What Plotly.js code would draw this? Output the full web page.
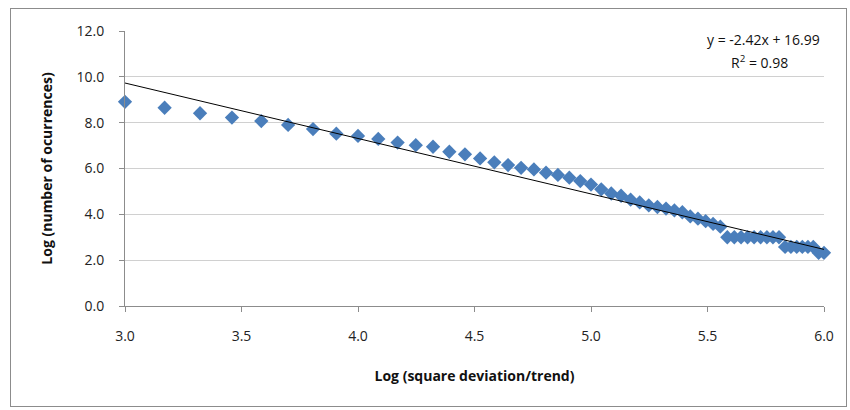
<!DOCTYPE html>
<html>
<head>
<meta charset="utf-8">
<script src="https://cdn.plot.ly/plotly-3.0.1.min.js"></script>
<style>
  html, body { margin: 0; padding: 0; background: #fff; }
  #frame { position: absolute; left: 10px; top: 8px; width: 837px; height: 399px; border: 1px solid #8c8c8c; box-sizing: border-box; pointer-events: none; z-index: 5; }
  #chart { position: absolute; left: 0; top: 0; width: 850px; height: 410px; }
</style>
</head>
<body>
<div id="chart"></div>
<div id="frame"></div>
<script>
// Log (square deviation/trend)
const xValues = [3.000, 3.170, 3.322, 3.459, 3.585, 3.700, 3.807, 3.907, 4.000, 4.087,
  4.170, 4.248, 4.322, 4.392, 4.459, 4.524, 4.585, 4.644, 4.700, 4.755,
  4.807, 4.858, 4.907, 4.954, 5.000, 5.044, 5.087, 5.129, 5.170, 5.209,
  5.248, 5.285, 5.322, 5.358, 5.392, 5.426, 5.459, 5.492, 5.524, 5.555,
  5.585, 5.615, 5.644, 5.672, 5.700, 5.728, 5.755, 5.781, 5.807, 5.833,
  5.858, 5.883, 5.907, 5.931, 5.954, 5.977, 6.000];
// Log (number of ocurrences)
const yValues = [8.91, 8.65, 8.41, 8.22, 8.07, 7.90, 7.72, 7.52, 7.42, 7.29,
  7.13, 7.02, 6.95, 6.73, 6.62, 6.44, 6.27, 6.15, 6.03, 5.96,
  5.82, 5.72, 5.60, 5.45, 5.30, 5.09, 4.91, 4.81, 4.64, 4.52,
  4.39, 4.32, 4.25, 4.17, 4.09, 3.91, 3.81, 3.70, 3.58, 3.46,
  3.00, 3.00, 3.00, 3.00, 3.00, 3.00, 3.00, 3.00, 3.00, 2.58,
  2.58, 2.58, 2.58, 2.58, 2.58, 2.32, 2.32];
// Linear trendline y = slope*x + intercept
const trendSlope = -2.42;
const trendIntercept = 16.99;
const trendR2 = 0.98;
const xTickVals = [3.0, 3.5, 4.0, 4.5, 5.0, 5.5, 6.0];
const yTickVals = [0, 2, 4, 6, 8, 10, 12];

const xMin = Math.min(...xValues), xMax = Math.max(...xValues);
const trendX = [xMin, xMax];
const trendY = trendX.map(v => trendSlope * v + trendIntercept);

const fontFam = '"Open Sans", "Liberation Sans", Arial, sans-serif';

const data = [
  {
    x: xValues, y: yValues, type: 'scatter', mode: 'markers',
    marker: { symbol: 'diamond', size: 11, color: '#4a7ebb', line: { width: 0 } },
    cliponaxis: false, showlegend: false, hoverinfo: 'x+y'
  },
  {
    x: trendX, y: trendY, type: 'scatter', mode: 'lines',
    line: { color: '#000000', width: 1 },
    cliponaxis: false, showlegend: false, hoverinfo: 'skip'
  }
];

const layout = {
  width: 850, height: 410,
  margin: { l: 125, r: 26, t: 31, b: 104 },
  paper_bgcolor: 'rgba(0,0,0,0)', plot_bgcolor: '#ffffff',
  font: { family: fontFam, size: 14, color: '#222' },
  showlegend: false,
  xaxis: {
    range: [3, 6], tickvals: xTickVals, tickformat: '.1f',
    showgrid: false, zeroline: false,
    showline: true, linecolor: '#8c8c8c', linewidth: 1,
    ticks: 'outside', ticklen: 5, tickcolor: '#8c8c8c',
    ticklabelstandoff: 12,
    tickfont: { family: fontFam, size: 14, color: '#222' },
    title: { text: 'Log (square deviation/trend)', standoff: 27,
      font: { family: fontFam, size: 14, color: '#111', weight: 'bold' } },
    automargin: false
  },
  yaxis: {
    range: [0, 12], tickvals: yTickVals, tickformat: '.1f',
    showgrid: true, gridcolor: '#d0d0d0', gridwidth: 1, zeroline: false,
    showline: true, linecolor: '#8c8c8c', linewidth: 1,
    ticks: 'outside', ticklen: 5, tickcolor: '#8c8c8c',
    ticklabelstandoff: 12,
    tickfont: { family: fontFam, size: 14, color: '#222' },
    title: { text: 'Log (number of ocurrences)', standoff: 20,
      font: { family: fontFam, size: 14, color: '#111', weight: 'bold' } },
    automargin: false
  },
  annotations: [
    { xref: 'paper', yref: 'paper', x: 0.997, y: 1.012, xanchor: 'right', yanchor: 'top',
      text: 'y = ' + trendSlope.toFixed(2) + 'x + ' + trendIntercept.toFixed(2),
      showarrow: false, font: { family: fontFam, size: 14, color: '#111' } },
    { xref: 'paper', yref: 'paper', x: 0.908, y: 0.93, xanchor: 'center', yanchor: 'top',
      text: 'R<sup>2</sup> = ' + trendR2.toFixed(2),
      showarrow: false, font: { family: fontFam, size: 14, color: '#111' } }
  ]
};

Plotly.newPlot('chart', data, layout, { displayModeBar: false, staticPlot: true });
</script>
</body>
</html>
